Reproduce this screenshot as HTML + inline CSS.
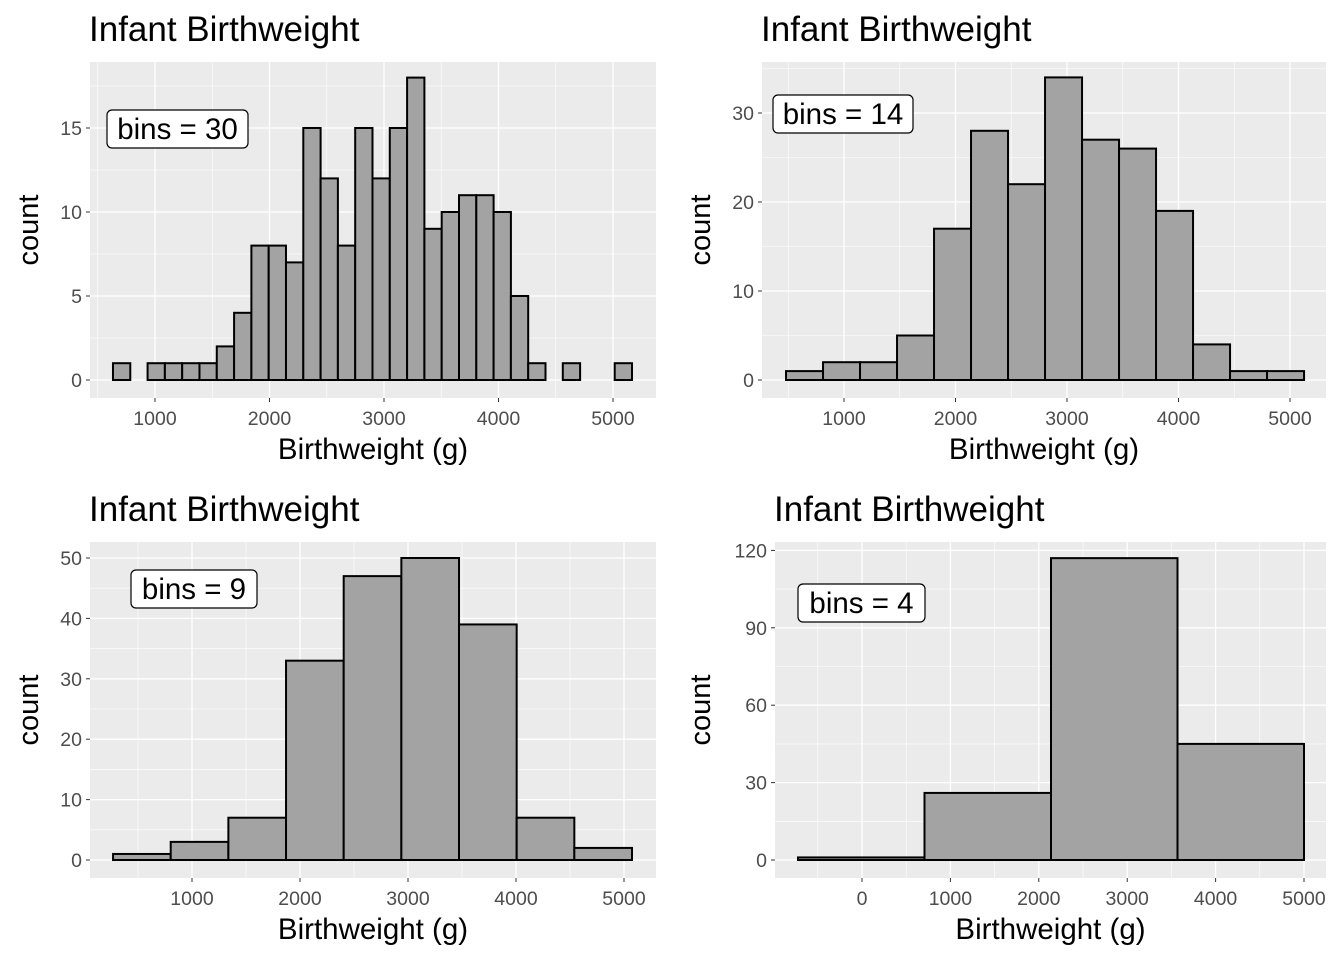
<!DOCTYPE html>
<html><head><meta charset="utf-8"><style>
body{margin:0;background:#fff;}
svg text{font-family:"Liberation Sans",Arial,sans-serif;}
</style></head><body>
<svg id="chart" width="1344" height="960" xmlns="http://www.w3.org/2000/svg"></svg>
<script>
const counts30=[1,0,1,1,1,1,2,4,8,8,7,15,12,8,15,12,15,18,9,10,11,11,10,5,1,0,1,0,0,1];
const counts14=[1,2,2,5,17,28,22,34,27,26,19,4,1,1];
const counts9=[1,3,7,33,47,50,39,7,2];
const counts4=[1,26,117,45];
const xTicks1=[1000,2000,3000,4000,5000];
const xTicks4=[0,1000,2000,3000,4000,5000];
const yTicks1=[0,5,10,15];
const yTicks2=[0,10,20,30];
const yTicks3=[0,10,20,30,40,50];
const yTicks4=[0,30,60,90,120];
const labels=["bins = 30","bins = 14","bins = 9","bins = 4"];

const NS="http://www.w3.org/2000/svg";
const svg=document.getElementById('chart');
function mk(tag,attrs,parent,text){const e=document.createElementNS(NS,tag);for(const k in attrs)e.setAttribute(k,attrs[k]);if(text!==undefined)e.textContent=text;(parent||svg).appendChild(e);return e;}

function panel(cfg){
  const g=mk('g',{});
  
  
  const xs=v=>cfg.x0+(v-cfg.xv0)*cfg.xk;
  const ys=v=>cfg.y0-v*cfg.yk;
  const bg=mk('rect',{x:cfg.L,y:cfg.T,width:cfg.R-cfg.L,height:cfg.B-cfg.T,fill:'#ebebeb'},g);
  
  const xt=cfg.xticks, yt=cfg.yticks;
  const dx=xt[1]-xt[0], dy=yt[1]-yt[0];
  for(let v=xt[0]-dx/2;v<=xt[xt.length-1]+dx/2;v+=dx){const p=xs(v);if(p>cfg.L&&p<cfg.R)mk('line',{x1:p,x2:p,y1:cfg.T,y2:cfg.B,stroke:'#fff','stroke-width':0.6},g);}
  for(let v=yt[0]-dy/2;v<=yt[yt.length-1]+dy/2;v+=dy){const p=ys(v);if(p>cfg.T&&p<cfg.B)mk('line',{x1:cfg.L,x2:cfg.R,y1:p,y2:p,stroke:'#fff','stroke-width':0.6},g);}
  xt.forEach(v=>{const p=xs(v);mk('line',{x1:p,x2:p,y1:cfg.T,y2:cfg.B,stroke:'#fff','stroke-width':1.3},g);
    mk('line',{x1:p,x2:p,y1:cfg.B,y2:cfg.B+4,stroke:'#333','stroke-width':1},g);
    const t=mk('text',{x:p,y:cfg.B+27,'text-anchor':'middle','font-size':19.5,fill:'#4d4d4d'},g,v);
    });
  yt.forEach(v=>{const p=ys(v);mk('line',{x1:cfg.L,x2:cfg.R,y1:p,y2:p,stroke:'#fff','stroke-width':1.3},g);
    mk('line',{x1:cfg.L-4,x2:cfg.L,y1:p,y2:p,stroke:'#333','stroke-width':1},g);
    const t=mk('text',{x:cfg.L-8,y:p+7,'text-anchor':'end','font-size':19.5,fill:'#4d4d4d'},g,v);
    });
  const n=cfg.counts.length, bw=(cfg.xmax-cfg.xmin)/n;
  cfg.counts.forEach((c,i)=>{const a=xs(cfg.xmin+i*bw), b=xs(cfg.xmin+(i+1)*bw);
    const r=mk('rect',{x:a,y:ys(c),width:b-a,height:ys(0)-ys(c),fill:'#a3a3a3',stroke:'#000','stroke-width':2},g);
    });
  const ti=mk('text',{x:cfg.L-1,y:cfg.T-21,'font-size':35,fill:'#000'},g,'Infant Birthweight');
  
  const xa=mk('text',{x:(cfg.L+cfg.R)/2,y:cfg.B+61,'text-anchor':'middle','font-size':29.5,fill:'#000'},g,'Birthweight (g)');
  
  const cy=(cfg.T+cfg.B)/2, yx=cfg.L-cfg.yoff;
  const ya=mk('text',{x:yx,y:cy,'text-anchor':'middle','font-size':29,fill:'#000',transform:`rotate(-90 ${yx} ${cy})`},g,'count');
  
  const lb=mk('rect',{x:cfg.lx,y:cfg.ly,width:cfg.lw,height:38,rx:5,fill:'#fff',stroke:'#000','stroke-width':1.2},g);
  
  const lt=mk('text',{x:cfg.lx+cfg.lw/2,y:cfg.ly+29,'text-anchor':'middle','font-size':29.5,fill:'#000'},g,cfg.label);
  
}
panel({name:'panel-bins-30',L:90,R:656,T:62,B:398,x0:155,xv0:1000,xk:0.1145,y0:380,yk:16.8,xticks:xTicks1,yticks:yTicks1,counts:counts30,xmin:633,xmax:5166,label:labels[0],lx:107,ly:110,lw:141,yoff:52});
panel({name:'panel-bins-14',L:762,R:1326,T:62,B:398,x0:844,xv0:1000,xk:0.1115,y0:380,yk:8.9,xticks:xTicks1,yticks:yTicks2,counts:counts14,xmin:480,xmax:5126,label:labels[1],lx:773,ly:95,lw:140,yoff:52});
panel({name:'panel-bins-9',L:90,R:656,T:542,B:878,x0:192,xv0:1000,xk:0.108,y0:860,yk:6.04,xticks:xTicks1,yticks:yTicks3,counts:counts9,xmin:269,xmax:5074,label:labels[2],lx:131,ly:570,lw:126,yoff:52});
panel({name:'panel-bins-4',L:775,R:1326,T:542,B:878,x0:862,xv0:0,xk:0.0884,y0:860,yk:2.58,xticks:xTicks4,yticks:yTicks4,counts:counts4,xmin:-724,xmax:5000,label:labels[3],lx:798,ly:584,lw:127,yoff:65});
</script>
</body></html>
